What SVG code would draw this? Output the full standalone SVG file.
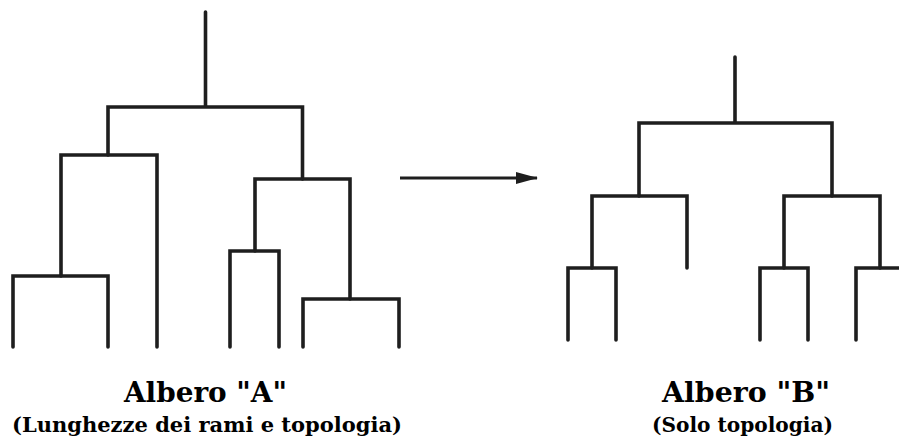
<svg xmlns="http://www.w3.org/2000/svg" width="899" height="438" viewBox="0 0 899 438">
<defs>
<style>
.br{fill:none;stroke:#1e1e1e;stroke-width:3.6;stroke-linecap:round;stroke-linejoin:miter}
.t{font-family:"DejaVu Serif","Liberation Serif",serif;font-weight:bold;fill:#000;text-anchor:middle}
.h{font-size:28px}
.s{font-size:21px}
</style>
<marker id="ah" markerWidth="22" markerHeight="12" refX="21" refY="6" orient="auto" markerUnits="userSpaceOnUse">
<path d="M0,0 L22,6 L0,12 Z" fill="#1e1e1e"/>
</marker>
</defs>
<rect width="899" height="438" fill="#fff"/>
<g id="treeA">
<path class="br" d="M205.5,12 V107 M108,155 V107 H302.5 V179"/>
<path class="br" d="M61,276 V155 H157 V347"/>
<path class="br" d="M13,347 V276 H108 V347"/>
<path class="br" d="M255,251 V179 H350 V299"/>
<path class="br" d="M230,347 V251 H279 V347"/>
<path class="br" d="M303,347 V299 H399 V347"/>
</g>
<g id="treeB">
<path class="br" d="M735,57 V123 M639,196 V123 H832 V196"/>
<path class="br" d="M592,268 V196 H687 V268"/>
<path class="br" d="M568,340 V268 H616 V340"/>
<path class="br" d="M784,268 V196 H880 V268"/>
<path class="br" d="M760,340 V268 H808 V340"/>
<path class="br" d="M856,340 V268 H902"/>
</g>
<g id="connectors">
<line x1="400" y1="178" x2="537" y2="178" stroke="#1e1e1e" stroke-width="3" marker-end="url(#ah)"/>
</g>
<g id="labelA">
<text class="t h" x="205.5" y="402" textLength="163" lengthAdjust="spacingAndGlyphs">Albero "A"</text>
<text class="t s" x="207" y="432" textLength="390" lengthAdjust="spacingAndGlyphs">(Lunghezze dei rami e topologia)</text>
</g>
<g id="labelB">
<text class="t h" x="746" y="402" textLength="168" lengthAdjust="spacingAndGlyphs">Albero "B"</text>
<text class="t s" x="742.5" y="432" textLength="181" lengthAdjust="spacingAndGlyphs">(Solo topologia)</text>
</g>
</svg>
